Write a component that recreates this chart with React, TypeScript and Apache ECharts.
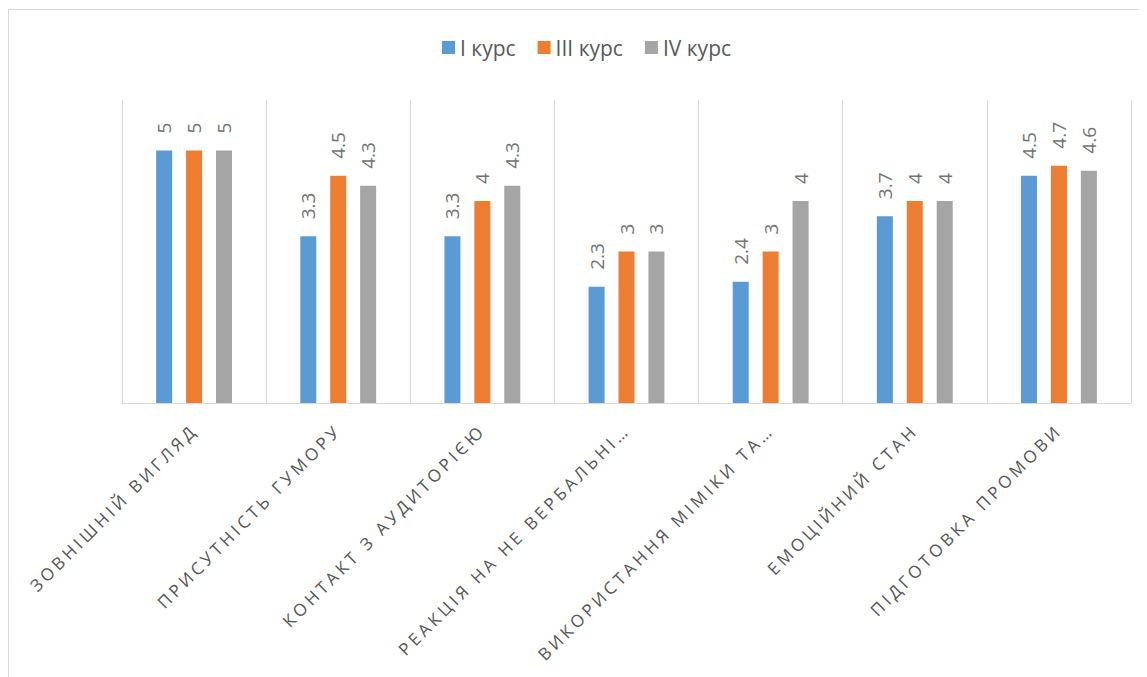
import React, { useEffect, useRef } from "react";
import * as echarts from "echarts";

const categories = [
  "ЗОВНІШНІЙ ВИГЛЯД",
  "ПРИСУТНІСТЬ ГУМОРУ",
  "КОНТАКТ З АУДИТОРІЄЮ",
  "РЕАКЦІЯ НА НЕ ВЕРБАЛЬНІ…",
  "ВИКОРИСТАННЯ МІМІКИ ТА…",
  "ЕМОЦІЙНИЙ СТАН",
  "ПІДГОТОВКА ПРОМОВИ",
];
const seriesNames = ["I курс", "III курс", "IV курс"];
const course1 = [5, 3.3, 3.3, 2.3, 2.4, 3.7, 4.5];
const course3 = [5, 4.5, 4, 3, 3, 4, 4.7];
const course4 = [5, 4.3, 4.3, 3, 4, 4, 4.6];
const colors = ["#5B9BD5", "#ED7D31", "#A5A5A5"];

const FONT = "'Open Sans', sans-serif";

export default function App() {
  const ref = useRef<HTMLDivElement>(null);
  useEffect(() => {
    if (!ref.current) return;
    const chart = echarts.init(ref.current, undefined, { renderer: "svg" });
    const values = [course1, course3, course4];
    chart.setOption({
      animation: false,
      backgroundColor: "#fff",
      textStyle: { fontFamily: FONT },
      graphic: [
        {
          type: "rect",
          shape: { x: 0.5, y: 1.5, width: 1400, height: 900 },
          style: { fill: "none", stroke: "#D9D9D9", lineWidth: 1 },
          silent: true,
        },
      ],
      legend: {
        data: seriesNames,
        left: 434,
        top: 29,
        padding: 0,
        itemWidth: 13,
        itemHeight: 13,
        itemGap: 22,
        icon: "rect",
        textStyle: { color: "#595959", fontSize: 21, fontFamily: FONT },
      },
      grid: { left: 114, top: 92, width: 1009, height: 303, containLabel: false },
      xAxis: {
        type: "category",
        data: categories,
        axisLine: { show: true, lineStyle: { color: "#D9D9D9", width: 1 } },
        axisTick: { show: false },
        splitLine: { show: true, lineStyle: { color: "#D9D9D9", width: 1 } },
        axisLabel: {
          interval: 0,
          rotate: 45,
          margin: 24,
          color: "#555555",
          fontSize: 17,
          fontFamily: FONT,
        },
      },
      yAxis: {
        type: "value",
        min: 0,
        max: 6,
        show: false,
        splitLine: { show: false },
      },
      series: seriesNames.map((name, i) => ({
        name,
        type: "bar",
        data: values[i],
        barWidth: 16,
        barGap: "87%",
        itemStyle: { color: colors[i] },
        label: {
          show: true,
          position: "top",
          distance: 17,
          rotate: 90,
          align: "left",
          verticalAlign: "middle",
          color: "#737373",
          fontSize: 19,
          fontFamily: FONT,
        },
      })),
    });
    const applySpacing = () => {
      const texts = ref.current?.querySelectorAll("text") || [];
      texts.forEach((t) => {
        if (categories.includes((t.textContent || "").trim())) {
          t.setAttribute("letter-spacing", "3.6");
        }
      });
    };
    applySpacing();
    chart.on("finished", applySpacing);
    return () => chart.dispose();
  }, []);
  return <div ref={ref} style={{ width: 1139, height: 669 }} />;
}
